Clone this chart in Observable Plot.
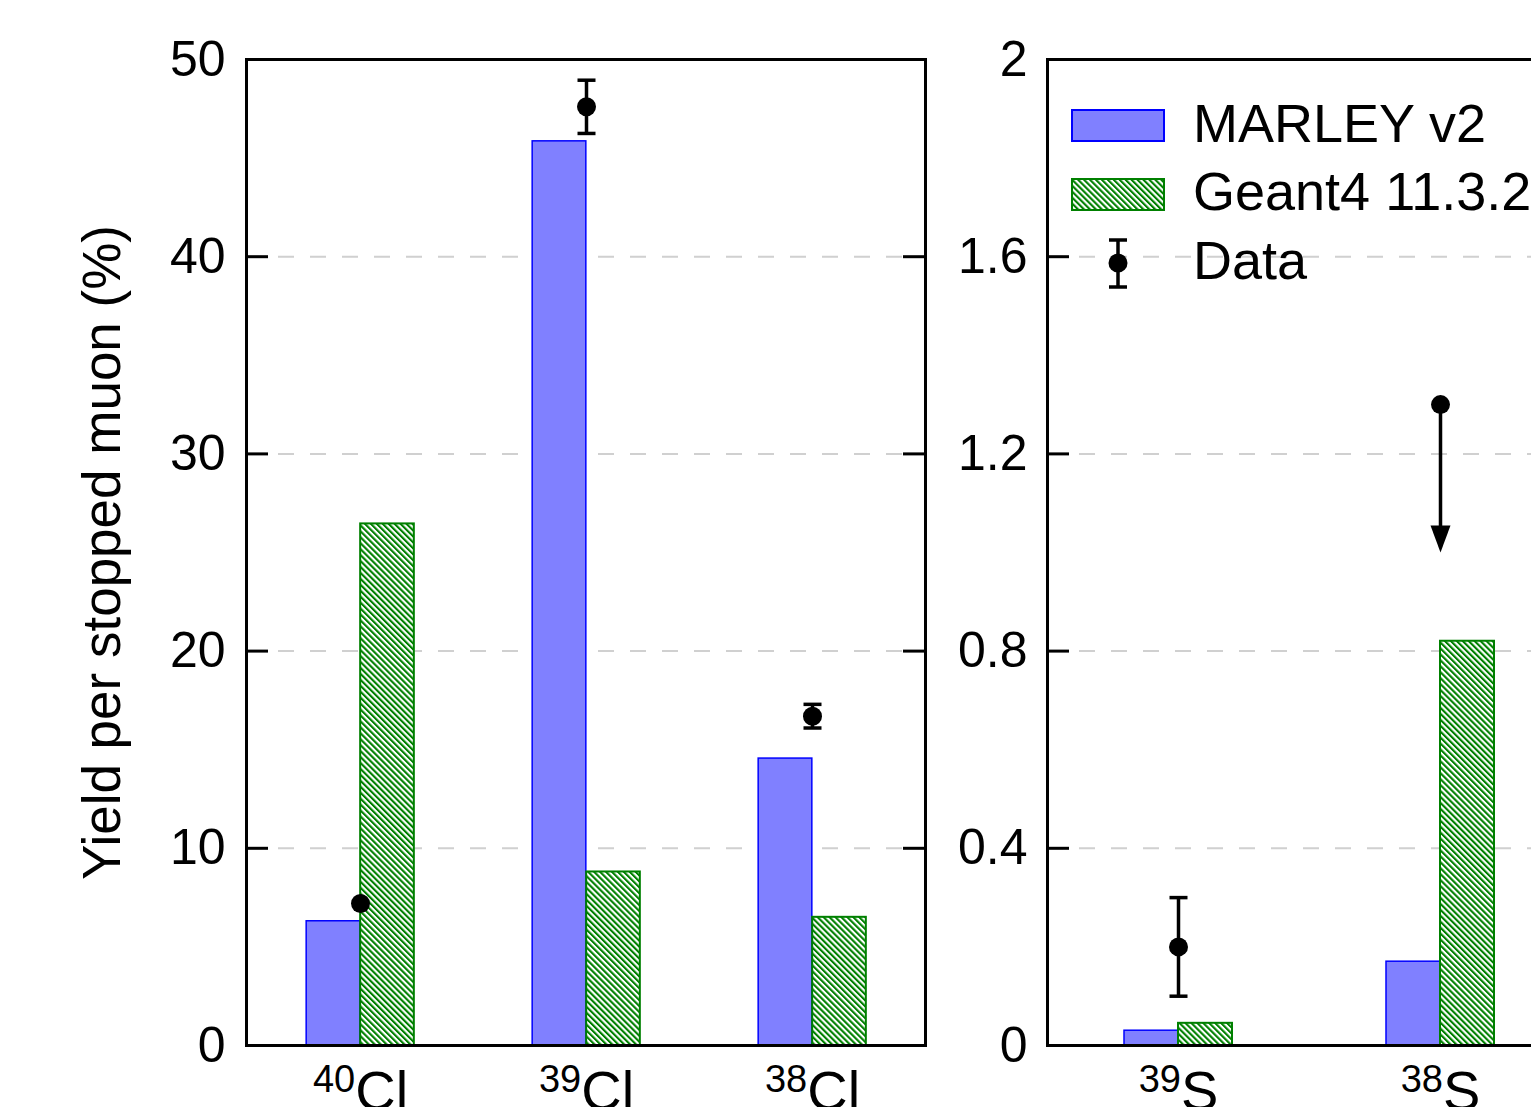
<!DOCTYPE html>
<html>
<head>
<meta charset="utf-8">
<script src="https://cdn.jsdelivr.net/npm/d3@7"></script>
<script src="https://cdn.jsdelivr.net/npm/@observablehq/plot@0.6"></script>
<style>
  html, body { margin: 0; padding: 0; background: #fff; overflow: hidden; }
  #wrap { position: relative; width: 1531px; height: 1107px; overflow: hidden;
          font-family: "Liberation Sans", Arial, Helvetica, sans-serif; background: #fff; }
  .panel { position: absolute; top: 0; }
  #legend { position: absolute; left: 0; top: 0; pointer-events: none; }
</style>
</head>
<body>
<div id="wrap"></div>
<script>
// ---------------- data ----------------
const yTitle = "Yield per stopped muon (%)";
const seriesNames = ["MARLEY v2", "Geant4 11.3.2", "Data"];

// Chlorine panel
const clIsotopes = ["40Cl", "39Cl", "38Cl"];
const clMass = [40, 39, 38];
const clSymbol = ["Cl", "Cl", "Cl"];
const clMarley = [6.3, 45.85, 14.55];
const clGeant4 = [26.45, 8.8, 6.5];
const clData = [7.2, 47.6, 16.7];
const clDataErr = [0, 1.35, 0.6];
const clLimitTo = [null, null, null];
const clTicks = [0, 10, 20, 30, 40, 50];

// Sulfur panel
const sIsotopes = ["39S", "38S"];
const sMass = [39, 38];
const sSymbol = ["S", "S"];
const sMarley = [0.03, 0.17];
const sGeant4 = [0.045, 0.82];
const sData = [0.2, 1.3];
const sDataErr = [0.1, 0];
const sLimitTo = [null, 1.0];   // upper-limit arrow
const sTicks = [0, 0.4, 0.8, 1.2, 1.6, 2];

// ---------------- styling ----------------
const FONT = "'Liberation Sans', Arial, Helvetica, sans-serif";
const BLUE_FILL = "#8080ff", BLUE_STROKE = "#0000ff", GREEN = "#008000";
const BAR_W = 54;

const capSymbol = { draw(ctx, size) { const r = Math.sqrt(size / Math.PI); ctx.moveTo(-r, 0); ctx.lineTo(r, 0); } };
const arrowHead = { draw(ctx, size) { const r = Math.sqrt(size / Math.PI); ctx.moveTo(0, 0); ctx.lineTo(-r, -2.7 * r); ctx.lineTo(r, -2.7 * r); ctx.closePath(); } };

function panel(o) {
  const rows = o.isotopes.map((iso, i) => ({
    iso, mass: o.mass[i], sym: o.symbol[i],
    marley: o.marley[i], geant4: o.geant4[i],
    data: o.data[i], err: o.err[i], limit: o.limitTo[i]
  }));
  const frameW = o.width - o.marginLeft - o.marginRight;
  const step = frameW / rows.length;
  const withErr = rows.filter(d => d.err > 0);
  const withLim = rows.filter(d => d.limit != null);
  const marks = [
    Plot.gridY(o.ticks.slice(1, -1), { stroke: "#d0d0d0", strokeOpacity: 1, strokeWidth: 2, strokeDasharray: "16,16" }),
    Plot.barY(rows, { x: "iso", y: "marley", fill: BLUE_FILL, stroke: BLUE_STROKE, strokeWidth: 1.5,
                      insetLeft: step / 2 - BAR_W, insetRight: step / 2 }),
    Plot.barY(rows, { x: "iso", y: "geant4", fill: "url(#hatch)", stroke: GREEN, strokeWidth: 2,
                      insetLeft: step / 2, insetRight: step / 2 - BAR_W }),
    Plot.ruleX(withErr, { x: "iso", y1: d => d.data - d.err, y2: d => d.data + d.err, stroke: "black", strokeWidth: 3.5 }),
    Plot.dot(withErr, { x: "iso", y: d => d.data + d.err, symbol: capSymbol, r: 9, stroke: "black", strokeWidth: 3.5, fill: "none" }),
    Plot.dot(withErr, { x: "iso", y: d => d.data - d.err, symbol: capSymbol, r: 9, stroke: "black", strokeWidth: 3.5, fill: "none" }),
    Plot.ruleX(withLim, { x: "iso", y1: "data", y2: "limit", stroke: "black", strokeWidth: 3.5, insetBottom: 12 }),
    Plot.dot(withLim, { x: "iso", y: "limit", symbol: arrowHead, r: 10, fill: "black", stroke: "none" }),
    Plot.dot(rows, { x: "iso", y: "data", r: 9.5, fill: "black", stroke: "none" }),
    Plot.ruleY(o.ticks, { stroke: "black", strokeWidth: 3, insetRight: frameW - 22 }),
    Plot.ruleY(o.ticks, { stroke: "black", strokeWidth: 3, insetLeft: frameW - 22 }),
    Plot.frame({ stroke: "black", strokeWidth: 3 }),
    Plot.axisY(o.ticks, { anchor: "left", tickSize: 0, tickPadding: o.tickPadding, fontSize: 50,
                          tickFormat: d => String(d), label: null }),
    Plot.text(rows, { x: "iso", text: "iso", frameAnchor: "bottom", lineAnchor: "bottom", textAnchor: "middle",
                      dy: 64, fontSize: 56 })
  ];
  if (o.title) {
    marks.push(Plot.text([o.title], { text: d => d, frameAnchor: "left", textAnchor: "middle", lineAnchor: "middle",
                                      dx: -143, rotate: -90, fontSize: 53 }));
  }
  const svg = Plot.plot({
    width: o.width, height: 1130,
    marginLeft: o.marginLeft, marginRight: o.marginRight, marginTop: 59, marginBottom: 85,
    style: { fontFamily: FONT, background: "transparent", maxWidth: "none", overflow: "visible" },
    x: { type: "band", domain: o.isotopes, padding: 0, axis: null },
    y: { domain: [0, o.yMax], axis: null },
    marks
  });
  // superscript mass numbers on the isotope labels
  const byIso = new Map(rows.map(d => [d.iso, d]));
  d3.select(svg).selectAll("text").each(function () {
    const d = byIso.get(this.textContent);
    if (!d) return;
    const t = d3.select(this);
    t.text(null);
    t.append("tspan").attr("font-size", 38).attr("dy", -18).text(d.mass);
    t.append("tspan").attr("font-size", 56).attr("dy", 18).text(d.sym);
  });
  const div = document.createElement("div");
  div.className = "panel";
  div.style.left = o.left + "px";
  div.appendChild(svg);
  return div;
}

const wrap = document.getElementById("wrap");

// legend + pattern defs
const leg = d3.select(wrap).append("svg").attr("id", "legend").attr("width", 1531).attr("height", 1107)
  .style("font-family", FONT);
const P = 4.2;
const pat = leg.append("defs").append("pattern").attr("id", "hatch")
  .attr("patternUnits", "userSpaceOnUse").attr("width", P).attr("height", P)
  .attr("patternTransform", "rotate(-45)");
pat.append("rect").attr("width", P).attr("height", P).attr("fill", "white");
pat.append("rect").attr("width", P / 2).attr("height", P).attr("fill", GREEN);

wrap.insertBefore(panel({
  isotopes: clIsotopes, mass: clMass, symbol: clSymbol, marley: clMarley, geant4: clGeant4,
  data: clData, err: clDataErr, limitTo: clLimitTo, ticks: clTicks, yMax: 50,
  left: 0, width: 945, marginLeft: 246, marginRight: 20, tickPadding: 21, title: yTitle
}), leg.node());
wrap.insertBefore(panel({
  isotopes: sIsotopes, mass: sMass, symbol: sSymbol, marley: sMarley, geant4: sGeant4,
  data: sData, err: sDataErr, limitTo: sLimitTo, ticks: sTicks, yMax: 2,
  left: 945, width: 646, marginLeft: 102, marginRight: 20, tickPadding: 20, title: null
}), leg.node());

// legend entries (inside the right panel, top-left)
const g = leg.append("g");
g.append("rect").attr("x", 1072).attr("y", 110).attr("width", 92).attr("height", 31)
  .attr("fill", BLUE_FILL).attr("stroke", BLUE_STROKE).attr("stroke-width", 2);
g.append("rect").attr("x", 1072).attr("y", 179).attr("width", 92).attr("height", 31)
  .attr("fill", "url(#hatch)").attr("stroke", GREEN).attr("stroke-width", 2);
g.append("line").attr("x1", 1118).attr("x2", 1118).attr("y1", 240).attr("y2", 287).attr("stroke", "black").attr("stroke-width", 3.5);
g.append("line").attr("x1", 1109).attr("x2", 1127).attr("y1", 240).attr("y2", 240).attr("stroke", "black").attr("stroke-width", 3.5);
g.append("line").attr("x1", 1109).attr("x2", 1127).attr("y1", 287).attr("y2", 287).attr("stroke", "black").attr("stroke-width", 3.5);
g.append("circle").attr("cx", 1118).attr("cy", 263).attr("r", 9.5).attr("fill", "black");
[142, 210, 279].forEach((yb, i) => {
  g.append("text").attr("x", 1193).attr("y", yb).attr("font-size", 54).attr("fill", "black").text(seriesNames[i]);
});
</script>
</body>
</html>
